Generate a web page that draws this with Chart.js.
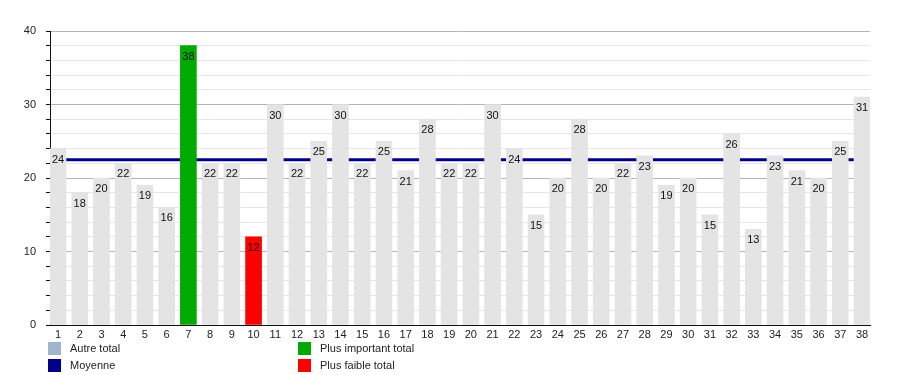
<!DOCTYPE html>
<html>
<head>
<meta charset="utf-8">
<script src="https://cdn.jsdelivr.net/npm/chart.js@4/dist/chart.umd.min.js"></script>
<style>
  html, body { margin: 0; padding: 0; background: #fff; }
  #wrap { position: relative; width: 900px; height: 375px; }
  #legend { position: absolute; left: 0; top: 0; width: 900px; height: 375px; pointer-events: none;
            font: 11px "Liberation Sans", Arial, sans-serif; color: #222; }
  .item { position: absolute; height: 13px; line-height: 13px; white-space: nowrap; }
  .sw { position: absolute; left: 0; top: 0; width: 13px; height: 13px; }
  .lbl { position: absolute; left: 22px; top: 0; }
</style>
</head>
<body>
<div id="wrap">
  <canvas id="chart" width="900" height="375"></canvas>
  <div id="legend"></div>
</div>
<script>
// data
const categories = ['1','2','3','4','5','6','7','8','9','10','11','12','13','14','15','16','17','18','19',
  '20','21','22','23','24','25','26','27','28','29','30','31','32','33','34','35','36','37','38'];
const totals = [24, 18, 20, 22, 19, 16, 38, 22, 22, 12, 30, 22, 25, 30, 22, 25, 21, 28, 22,
  22, 30, 24, 15, 20, 28, 20, 22, 23, 19, 20, 15, 26, 13, 23, 21, 20, 25, 31];
const yTickLabels = [0, 10, 20, 30, 40];
const legendLabels = ['Autre total', 'Plus important total', 'Moyenne', 'Plus faible total'];

// colours
const GREY = '#e4e4e4';
const GREEN = '#00aa00';
const RED = '#ff0000';
const NAVY = '#000088';
const LEGEND_GREY = '#9fb4cd';

const FONT = '"Liberation Sans", Arial, sans-serif';

// x range so bar 1 sits on the y axis and bar 38 on the right edge
const X_MIN = 0.632;
const X_MAX = categories.length + 0.368;

const mean = totals.reduce((a, b) => a + b, 0) / totals.length;
const maxIdx = totals.indexOf(Math.max(...totals));
const minIdx = totals.indexOf(Math.min(...totals));

const barColors = totals.map((v, i) => i === maxIdx ? GREEN : (i === minIdx ? RED : GREY));

// value written inside the top of each bar
const barLabels = {
  id: 'barLabels',
  afterDatasetsDraw(chart) {
    const ctx = chart.ctx;
    const meta = chart.getDatasetMeta(0);
    ctx.save();
    ctx.font = '11px ' + FONT;
    ctx.fillStyle = '#111';
    ctx.textAlign = 'center';
    ctx.textBaseline = 'middle';
    meta.data.forEach((bar, i) => {
      ctx.fillText(String(totals[i]), bar.x, bar.y + 11);
    });
    ctx.restore();
  }
};

const config = {
  data: {
    datasets: [
      {
        type: 'bar',
        label: 'Total',
        data: totals.map((v, i) => ({ x: i + 1, y: v })),
        backgroundColor: barColors,
        borderWidth: 0,
        barThickness: 16,
        order: 1
      },
      {
        type: 'line',
        label: 'Moyenne',
        data: [{ x: X_MIN, y: mean }, { x: X_MAX, y: mean }],
        borderColor: NAVY,
        borderWidth: 3,
        pointRadius: 0,
        fill: false,
        order: 2
      }
    ]
  },
  options: {
    responsive: false,
    animation: false,
    layout: { padding: { top: 31, right: 30, left: 0, bottom: 0 } },
    plugins: {
      legend: { display: false },
      tooltip: { enabled: false }
    },
    scales: {
      x: {
        type: 'linear',
        min: X_MIN,
        max: X_MAX,
        offset: false,
        grid: { display: false, drawTicks: false, offset: false },
        border: { display: true, color: '#111', width: 1 },
        ticks: {
          stepSize: 1,
          includeBounds: false,
          autoSkip: false,
          maxTicksLimit: 100,
          maxRotation: 0,
          padding: 3,
          color: '#222',
          font: { family: FONT, size: 11 },
          callback: (value) => categories[value - 1]
        },
        afterFit: (scale) => { scale.height = 50; }
      },
      y: {
        min: 0,
        max: 40,
        grid: {
          color: (c) => (yTickLabels.includes(c.tick.value) ? '#b4b4b4' : '#e6e6e6'),
          tickColor: '#111',
          tickLength: 4,
          lineWidth: 1
        },
        border: { display: true, color: '#111', width: 1 },
        ticks: {
          stepSize: 2,
          autoSkip: false,
          padding: 10,
          color: '#222',
          font: { family: FONT, size: 11 },
          callback: (value) => (yTickLabels.includes(value) ? String(value) : '')
        },
        afterFit: (scale) => { scale.width = 50; }
      }
    }
  },
  plugins: [barLabels]
};

const chart = new Chart(document.getElementById('chart'), config);

// legend in two columns below the axis
const legendColors = [LEGEND_GREY, GREEN, NAVY, RED];
const legendPos = [[48, 342], [298, 342], [48, 359], [298, 359]];
const legendEl = document.getElementById('legend');
legendLabels.forEach((text, i) => {
  const item = document.createElement('div');
  item.className = 'item';
  item.style.left = legendPos[i][0] + 'px';
  item.style.top = legendPos[i][1] + 'px';
  item.innerHTML = '<span class="sw" style="background:' + legendColors[i] + '"></span>' +
    '<span class="lbl">' + text + '</span>';
  legendEl.appendChild(item);
});
</script>
</body>
</html>
